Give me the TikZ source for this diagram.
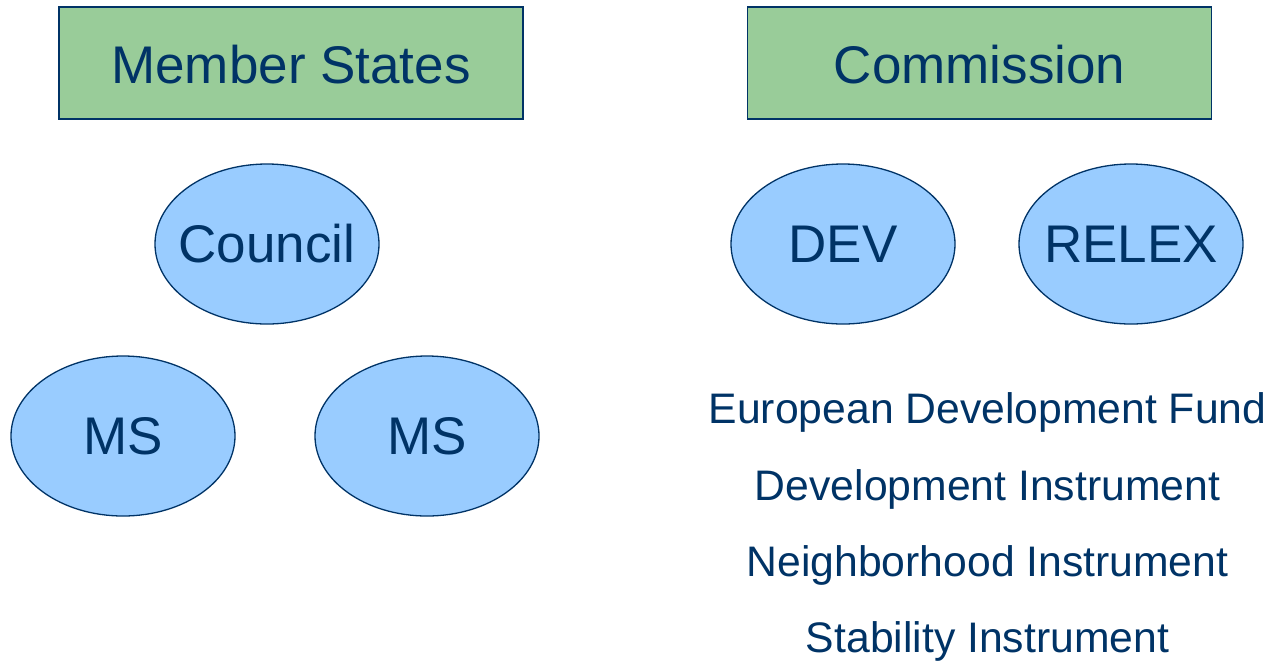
\documentclass[tikz,border=0pt]{standalone}
\usepackage{fontspec}
\setmainfont{Liberation Sans}
\usetikzlibrary{shapes.geometric}
\definecolor{navy}{HTML}{003366}
\definecolor{boxgreen}{HTML}{99CC99}
\definecolor{ovalblue}{HTML}{99CCFF}
\tikzset{
  titlebox/.style={draw=navy, line width=1.5pt, fill=boxgreen, minimum width=464pt, minimum height=112pt, inner sep=0pt, text=navy, font=\fontsize{53}{60}\selectfont},
  oval/.style={ellipse, draw=navy, line width=1.3pt, fill=ovalblue, minimum width=224pt, minimum height=160pt, inner sep=0pt, text=navy, font=\fontsize{53}{60}\selectfont},
  listtext/.style={anchor=base, inner sep=0pt, text=navy, font=\fontsize{42.7}{48}\selectfont}
}
\begin{document}
\begin{tikzpicture}[x=1pt,y=-1pt]
\useasboundingbox (0,0) rectangle (1268,662);
\node[titlebox] (ms) at (291,63) {};
\node[anchor=base, text=navy, font=\fontsize{53}{60}\selectfont, inner sep=0pt] (mstext) at (291,83) {Member States};
\node[titlebox] (com) at (979.5,63) {};
\node[anchor=base, text=navy, font=\fontsize{53}{60}\selectfont, inner sep=0pt] (comtext) at (979.5,83) {Commission};
\node[oval] (council) at (267,244) {\makebox[0pt]{Council}};
\node[oval] (ms1) at (123,436) {\makebox[0pt]{MS}};
\node[oval] (ms2) at (427,436) {\makebox[0pt]{MS}};
\node[oval] (dev) at (843,244) {\makebox[0pt]{DEV}};
\node[oval] (relex) at (1131,244) {\makebox[0pt]{RELEX}};
\node[listtext] (edf) at (987.5,423) {European Development Fund};
\node[listtext] (di) at (987.5,500) {Development Instrument};
\node[listtext] (ni) at (987.5,576) {Neighborhood Instrument};
\node[listtext] (si) at (987.5,652) {Stability Instrument};
\end{tikzpicture}
\end{document}
